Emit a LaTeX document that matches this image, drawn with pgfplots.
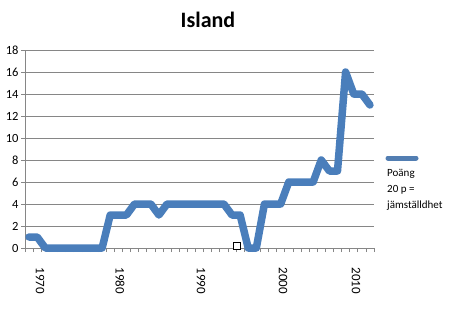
\documentclass[border=0pt]{standalone}
\usepackage{pgfplots}
\pgfplotsset{compat=1.18}
\usepackage{fontspec}
\setmainfont{Carlito}
\definecolor{excelblue}{RGB}{74,126,187}
\definecolor{gridgray}{RGB}{134,134,134}
\begin{document}
\begin{tikzpicture}[x=1bp,y=1bp]
\useasboundingbox (0,0) rectangle (454,329);
\begin{axis}[
  at={(25bp,81bp)}, anchor=south west,
  width=349bp, height=198bp, scale only axis,
  xmin=-0.5, xmax=42.5, ymin=0, ymax=18,
  axis x line*=bottom, axis y line*=left,
  axis line style={gridgray, line width=0.8bp, -},
  ytick={0,2,...,18},
  ymajorgrids, grid style={gridgray, line width=0.8bp},
  xtick={-0.5,0.5,...,42.5}, xticklabels={},
  tick align=outside, major tick length=4bp,
  tick style={gridgray, line width=0.6bp},
  tick label style={font=\fontsize{12.5bp}{14bp}\selectfont},
  yticklabel style={xshift=1bp},
  /pgf/number format/assume math mode=true,
  extra x ticks={1.35,11.2,21.2,31.3,40.3},
  extra x tick labels={1970,1980,1990,2000,2010},
  extra x tick style={major tick length=16bp, tick style={draw=none},
    xticklabel style={rotate=-90, anchor=west, font=\fontsize{13bp}{14bp}\selectfont}},
  clip=false,
]
\addplot[excelblue, line width=7.5bp, line join=round, line cap=round] coordinates {
(0,1) (1,1) (2,0) (3,0) (4,0) (5,0) (6,0) (7,0) (8,0) (9,0)
(10,3) (11,3) (12,3) (13,4) (14,4) (15,4) (16,3) (17,4) (18,4) (19,4)
(20,4) (21,4) (22,4) (23,4) (24,4) (25,3) (26,3) (27,0) (28,0) (29,4)
(30,4) (31,4) (32,6) (33,6) (34,6) (35,6) (36,8) (37,7) (38,7) (39,16)
(40,14) (41,14) (42,13)
};
\addplot[only marks, mark=square*, mark size=3.5bp, mark options={fill=white, draw=black, line width=0.8bp}] coordinates {(25.6,0.2)};
\end{axis}
\node[font=\bfseries\fontsize{22bp}{24bp}\selectfont] at (208,309) {Island};
\draw[excelblue!85!gray, line width=5bp, line cap=round] (388,171) -- (416,171);
\node[anchor=north west, align=left, inner sep=0, font=\fontsize{11bp}{16bp}\selectfont] at (387,160) {Poäng\\20 p =\\jämställdhet};
\end{tikzpicture}
\end{document}
